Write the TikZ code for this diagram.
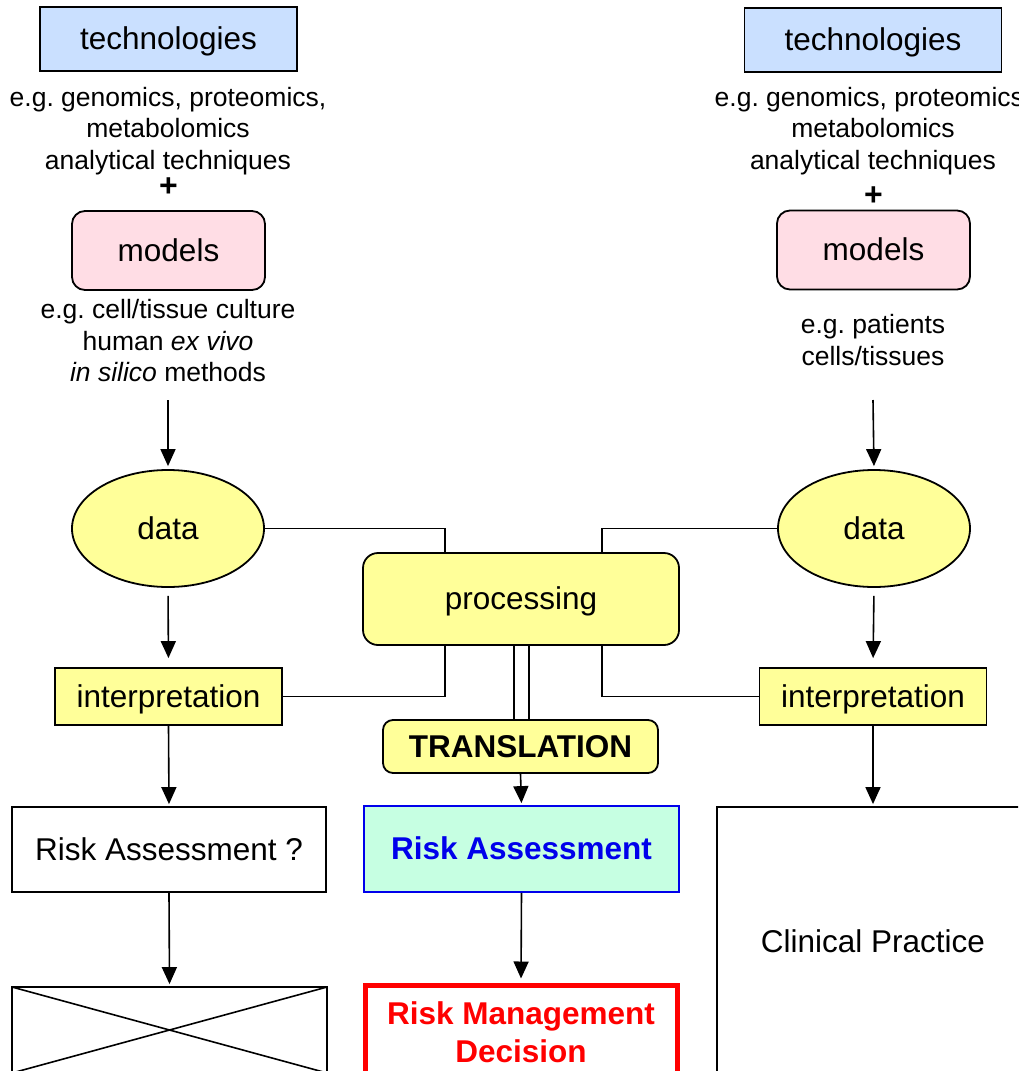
\documentclass[tikz,border=0pt]{standalone}
\usepackage{fontspec}
\setmainfont{Liberation Sans}
\usetikzlibrary{arrows.meta,shapes.geometric,calc}
\definecolor{techblue}{RGB}{202,224,255}
\definecolor{modelpink}{RGB}{255,221,229}
\definecolor{paleyellow}{RGB}{255,255,153}
\definecolor{mint}{RGB}{198,255,226}
\definecolor{rablue}{RGB}{0,0,235}
\frenchspacing
\begin{document}
\begin{tikzpicture}[x=1pt,y=-1pt,
  big/.style={font=\fontsize{31.5}{37}\selectfont},
  desc/.style={font=\fontsize{26.5}{31.5}\selectfont, align=center, inner sep=0pt},
  box/.style={draw, line width=1.8pt, big, inner sep=0pt, align=center,
    text height=28.5pt, text depth=6.7pt},
  techbox/.style={box, fill=techblue, minimum width=257pt, minimum height=64pt},
  modelbox/.style={box, rounded corners=13pt, fill=modelpink, minimum width=193pt, minimum height=79pt},
  databox/.style={box, ellipse, fill=paleyellow, minimum width=192pt, minimum height=117pt},
  interpbox/.style={box, fill=paleyellow, minimum width=227pt, minimum height=57pt},
  plus/.style={font=\fontsize{32}{32}\selectfont\bfseries, inner sep=0pt},
  link/.style={line width=1.6pt},
  arr/.style={link, -{Triangle[length=17pt,width=15pt]}},
]
\clip (0,0) rectangle (1018,1071);
\fill[white] (0,0) rectangle (1018,1071);

% ---------- left column ----------
\node[techbox] (ltech) at (168.5,39) {technologies};
\node[desc] (ltechdesc) at (168,131) {e.g. genomics, proteomics,\\metabolomics\\analytical techniques};
\node[plus] (lplus) at (168.5,187) {+};
\node[modelbox] (lmodel) at (168.5,250.5) {models};
\node[desc] (lmodeldesc) at (168,341) {e.g. cell/tissue culture\\human \textit{ex vivo}\\\textit{in silico} methods};
\coordinate (lstart) at (168,400);
\node[databox] (ldata) at (168,528.5) {data};
\node[interpbox] (linterp) at (168.5,696.5) {interpretation};
\node[box, minimum width=314pt, minimum height=85pt] (lrisk) at (169,849.5) {Risk Assessment ?};
\node[box, minimum width=315pt, minimum height=86pt,
  path picture={\draw[line width=1.6pt]
    (path picture bounding box.north west) -- (path picture bounding box.south east)
    (path picture bounding box.south west) -- (path picture bounding box.north east);}]
  (lnone) at (169.5,1030) {};

% ---------- right column ----------
\node[techbox] (rtech) at (873,40) {technologies};
\node[desc] (rtechdesc) at (873,131) {e.g. genomics, proteomics,\\metabolomics\\analytical techniques};
\node[plus] (rplus) at (873.5,196) {+};
\node[modelbox] (rmodel) at (873.5,250) {models};
\node[desc] (rmodeldesc) at (873,340) {e.g. patients\\cells/tissues};
\coordinate (rstart) at (873,400);
\node[databox] (rdata) at (874,528.5) {data};
\node[interpbox] (rinterp) at (873,696.5) {interpretation};
\node[box, minimum width=312pt, minimum height=270pt] (clinic) at (873,942) {Clinical Practice};

% ---------- centre column ----------
\node[box, rounded corners=15pt, fill=paleyellow, minimum width=316pt, minimum height=92pt] (proc) at (521,599) {processing};
\node[box, rounded corners=10pt, fill=paleyellow, minimum width=275pt, minimum height=53pt, font=\fontsize{31.5}{37}\selectfont\bfseries] (transl) at (520.5,746.5) {TRANSLATION};
\node[box, draw=rablue, fill=mint, minimum width=315pt, minimum height=86pt, text=rablue, font=\fontsize{31.5}{37}\selectfont\bfseries] (mrisk) at (521.5,849) {Risk Assessment};
\node[box, text height={}, text depth={}, draw=red, line width=5pt, fill=white, minimum width=312pt, minimum height=94pt, text=red, font=\fontsize{31.5}{37.5}\selectfont\bfseries] (decision) at (521,1032) {Risk Management\\Decision};

% ---------- connectors ----------
\draw[arr, shorten >=3pt] (lstart) -- (ldata.north);
\draw[arr, shorten >=3pt] (rstart) -- (rdata.north);
\draw[arr, shorten <=8pt, shorten >=9pt] (ldata.south) -- (linterp.north);
\draw[arr, shorten <=8pt, shorten >=9pt] (rdata.south) -- (rinterp.north);

\draw[link] (ldata.east) -| ([xshift=83pt]proc.north west);
\draw[link] (rdata.west) -| ([xshift=-78pt]proc.north east);
\draw[link] ([xshift=83pt]proc.south west) |- (linterp.east);
\draw[link] ([xshift=-78pt]proc.south east) |- (rinterp.west);
\draw[link] ([xshift=-7pt]proc.south) -- ([xshift=-6.5pt]transl.north);
\draw[link] ([xshift=8pt]proc.south) -- ([xshift=8.5pt]transl.north);

\draw[arr, shorten >=2pt] (linterp.south) -- (lrisk.north);
\draw[arr, shorten >=2pt] (rinterp.south) -- (clinic.north);
\draw[arr, shorten >=2pt] (transl.south) -- (mrisk.north);
\draw[arr, shorten >=2pt] (lrisk.south) -- (lnone.north);
\draw[arr, shorten >=4pt] (mrisk.south) -- (decision.north);
\end{tikzpicture}
\end{document}
